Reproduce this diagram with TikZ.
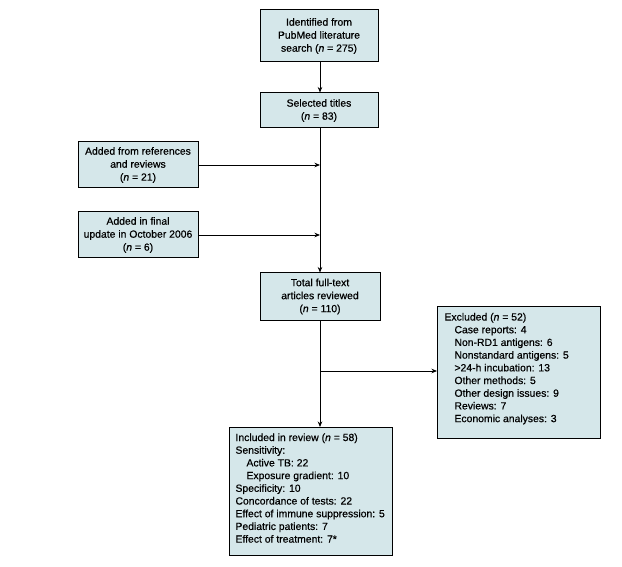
\documentclass[tikz,border=0pt]{standalone}
\usepackage{fontspec}
\setmainfont{Liberation Sans}[UprightFeatures={FakeBold=0.5}, ItalicFeatures={FakeBold=0.5}]
\usetikzlibrary{arrows.meta}
\definecolor{boxfill}{RGB}{213,231,234}
\newcommand{\nn}{\textit{n}}
\tikzset{
  box/.style={draw=black, line width=1pt, fill=boxfill, inner sep=0pt, align=center,
              font=\fontsize{10.4}{13}\selectfont},
  lbox/.style={draw=black, line width=1pt, fill=boxfill, inner sep=0pt, anchor=north west,
              font=\fontsize{10.4}{12.7}\selectfont},
  flow/.style={line width=0.8pt, -{Stealth[length=5.5pt,width=4.5pt]}}
}
\begin{document}
\begin{tikzpicture}[x=1pt,y=-1pt]
\fill[white] (0,0) rectangle (622,567);
\useasboundingbox (0,0) rectangle (622,567);

\node[box, minimum width=118pt, minimum height=52pt] (ident) at (319,36)
  {Identified from\\PubMed literature\\search (\nn{} = 275)};
\node[box, minimum width=118pt, minimum height=35pt] (sel) at (319,110.5)
  {Selected titles\\(\nn{} = 83)};
\node[box, minimum width=120pt, minimum height=46pt] (refs) at (138,165)
  {Added from references\\and reviews\\(\nn{} = 21)};
\node[box, minimum width=120pt, minimum height=46pt] (upd) at (138,235)
  {Added in final\\update in October 2006\\(\nn{} = 6)};
\node[box, minimum width=120pt, minimum height=47pt] (total) at (320,296.5)
  {Total full-text\\articles reviewed\\(\nn{} = 110)};

\node[lbox] (excl) at (437,306) {\begin{minipage}[t][132pt][t]{163pt}\vspace*{6.5pt}%
\leftskip=7pt\relax\parindent=0pt
Excluded (\nn{} = 52)\\
\hspace*{10pt}Case reports: 4\\
\hspace*{10pt}Non-RD1 antigens: 6\\
\hspace*{10pt}Nonstandard antigens: 5\\
\hspace*{10pt}{>}24-h incubation: 13\\
\hspace*{10pt}Other methods: 5\\
\hspace*{10pt}Other design issues: 9\\
\hspace*{10pt}Reviews: 7\\
\hspace*{10pt}Economic analyses: 3\par
\end{minipage}};

\node[lbox] (incl) at (229,427) {\begin{minipage}[t][128pt][t]{163pt}\vspace*{6pt}%
\leftskip=6pt\relax\parindent=0pt
Included in review (\nn{} = 58)\\
Sensitivity:\\
\hspace*{11pt}Active TB: 22\\
\hspace*{11pt}Exposure gradient: 10\\
Specificity: 10\\
Concordance of tests: 22\\
Effect of immune suppression: 5\\
Pediatric patients: 7\\
Effect of treatment: 7*\par
\end{minipage}};

\draw[flow] (ident.south -| 320,0) -- (sel.north -| 320,0);
\draw[flow] (sel.south -| 320,0) -- (total.north);
\draw[flow] (refs.east) -- (refs.east -| total.north);
\draw[flow] (upd.east) -- (upd.east -| total.north);
\draw[flow] (total.south) -- (total.south |- incl.north);
\coordinate (br) at (320,371);
\draw[flow] (br) -- (br -| excl.west);
\end{tikzpicture}
\end{document}
